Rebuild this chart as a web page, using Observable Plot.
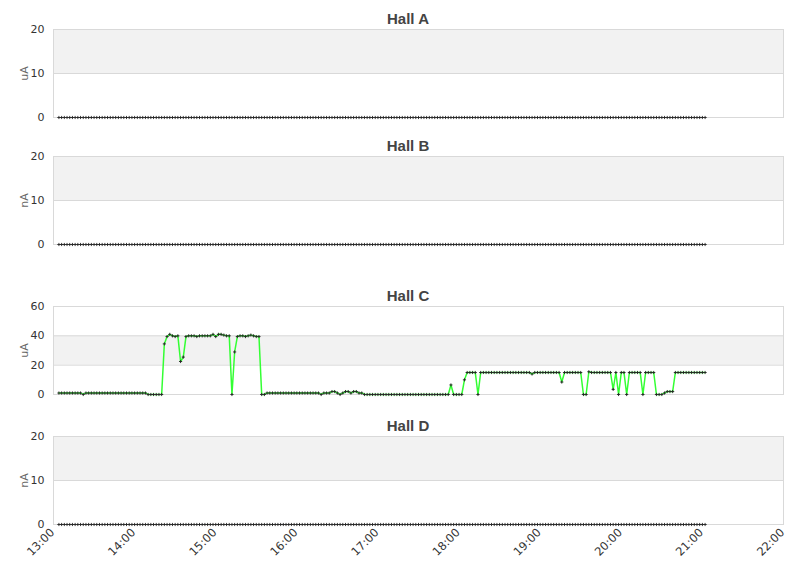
<!DOCTYPE html>
<html>
<head>
<meta charset="utf-8">
<script src="https://cdn.jsdelivr.net/npm/d3@7"></script>
<script src="https://cdn.jsdelivr.net/npm/@observablehq/plot@0.6"></script>
<style>
  html, body { margin: 0; padding: 0; background: #fff; }
  #chart { position: relative; width: 811px; height: 578px; overflow: hidden; }
  .panel { position: absolute; left: 0; }
  .title { position: absolute; left: 0; width: 816px; text-align: center;
           font: bold 15px "Liberation Sans", Arial, sans-serif; color: #444; }
</style>
</head>
<body>
<div id="chart"></div>
<script>
// ---- data ----
const panelTitles = ["Hall A", "Hall B", "Hall C", "Hall D"];
const panelUnits = ["uA", "nA", "uA", "nA"];
const yTicksAB = [0, 10, 20];
const yTicksC = [0, 20, 40, 60];
const xTickLabels = ["13:00","14:00","15:00","16:00","17:00","18:00","19:00","20:00","21:00","22:00"];
const sampleStart = Date.UTC(2024, 0, 1, 13, 4);   // first reading 13:04
const sampleStepMinutes = 2;
const sampleCount = 240;

const hallAValues = new Array(sampleCount).fill(0);
const hallBValues = new Array(sampleCount).fill(0);
const hallDValues = new Array(sampleCount).fill(0);
const hallCValues = [
  1,1,1,1,1,1,1,1,1, 0,
  1,1,1,1,1,1,1,1,1,1,1,1,1,1,1,1,1,1,1,1,1,1,1,
  0,0,0,0,0,0,
  34.5,39.5,41,40,39.5,40,22.5,25.5,39.5,
  40,40,40,39.5,40,40,40,40,40,
  41,39.5,41,41,40.5,40,40,
  0, 29,
  39.5,40,40,39.5,40,40.5,40,39.5,39.5,
  0,0,
  1,1,1,1,1,1,1,1,1,1,1,1,1,1,1,1,1,1,1,1,
  0,
  1,1,1,2,2,1,
  0,
  1,2,2,1,2,2,1,1,
  0,0,0,0,0,0,0,0,0,0,0,0,0,0,0,0,0,0,0,0,0,0,0,0,0,0,0,0,0,0,0,0,
  6.5,
  0,0,0,0,
  10, 15,15,15,15,
  0,
  15,15,15,15,15,15,15,15,15,15,15,15,15,15,15,15,15,15,15,
  14,
  15,15,15,15,15,15,15,15,15,15,
  8.5,
  15,15,15,15,15,15,15,
  0,0,
  15.5,15,15,15,15,15,15,15,15,
  3.5, 15, 0, 15,15, 0,
  15,15,15,15,15,
  0,
  15,15,15,15,
  0,0,0,
  1, 2,2,2,
  15,15,15,15,15,15,15,15,15,15,15,15
];

// ---- build ----
const xStart = new Date(Date.UTC(2024, 0, 1, 13, 0));
const xEnd = new Date(Date.UTC(2024, 0, 1, 22, 0));
const xTicks = xTickLabels.map(s => new Date(Date.UTC(2024, 0, 1, +s.slice(0, 2), +s.slice(3))));
const toRows = vals => vals.map((v, i) => ({time: new Date(sampleStart + i * sampleStepMinutes * 60000), value: v}));

const panels = [
  {values: hallAValues, ticks: yTicksAB, top: 0, line: false},
  {values: hallBValues, ticks: yTicksAB, top: 127, line: false},
  {values: hallCValues, ticks: yTicksC, top: 277, line: true},
  {values: hallDValues, ticks: yTicksAB, top: 407, line: false, xAxis: true}
];

const chart = document.getElementById("chart");
panels.forEach((p, k) => {
  const rows = toRows(p.values);
  const bands = [];
  for (let j = 1; j + 1 < p.ticks.length; j += 2) bands.push([p.ticks[j], p.ticks[j + 1]]);
  const height = p.xAxis ? 171 : 130;
  const marks = [
    Plot.rect(bands, {x1: () => xStart, x2: () => xEnd, y1: d => d[0], y2: d => d[1], fill: "#f2f2f2"}),
    Plot.gridY(p.ticks, {stroke: "#d9d9d9", strokeOpacity: 1}),
    Plot.axisY(p.ticks, {tickSize: 0, tickPadding: 9, label: null, fill: "#333", fontSize: 11}),
    Plot.text([panelUnits[k]], {frameAnchor: "left", textAnchor: "middle", dx: -29, rotate: -90, fill: "#666", fontSize: 11})
  ];
  if (p.line) marks.push(Plot.lineY(rows, {x: "time", y: "value", stroke: "#33ff33", strokeWidth: 1.5}));
  marks.push(Plot.frame({stroke: "#d9d9d9"}));
  marks.push(Plot.dot(rows, {x: "time", y: "value", symbol: "plus", r: 1.1, stroke: "#222", strokeWidth: 0.9}));
  if (p.xAxis) marks.push(Plot.axisX(xTicks, {tickSize: 0, tickPadding: 6, tickRotate: -45, dx: -1,
      tickFormat: d => xTickLabels[xTicks.findIndex(t => +t === +d)], label: null, fill: "#333", fontSize: 11.5}));
  const svg = Plot.plot({
    width: 811, height,
    marginLeft: 53, marginRight: 28, marginTop: 29, marginBottom: height - 29 - 88,
    style: {fontFamily: "'DejaVu Sans', sans-serif", fontSize: "11px", background: "transparent", overflow: "visible"},
    x: {type: "utc", domain: [xStart, xEnd], axis: p.xAxis ? undefined : null},
    y: {domain: [0, p.ticks[p.ticks.length - 1]]},
    marks
  });
  const wrap = document.createElement("div");
  wrap.className = "panel";
  wrap.style.top = p.top + "px";
  wrap.appendChild(svg);
  chart.appendChild(wrap);
  const t = document.createElement("div");
  t.className = "title";
  t.style.top = (p.top + 10) + "px";
  t.textContent = panelTitles[k];
  chart.appendChild(t);
});
</script>
</body>
</html>
